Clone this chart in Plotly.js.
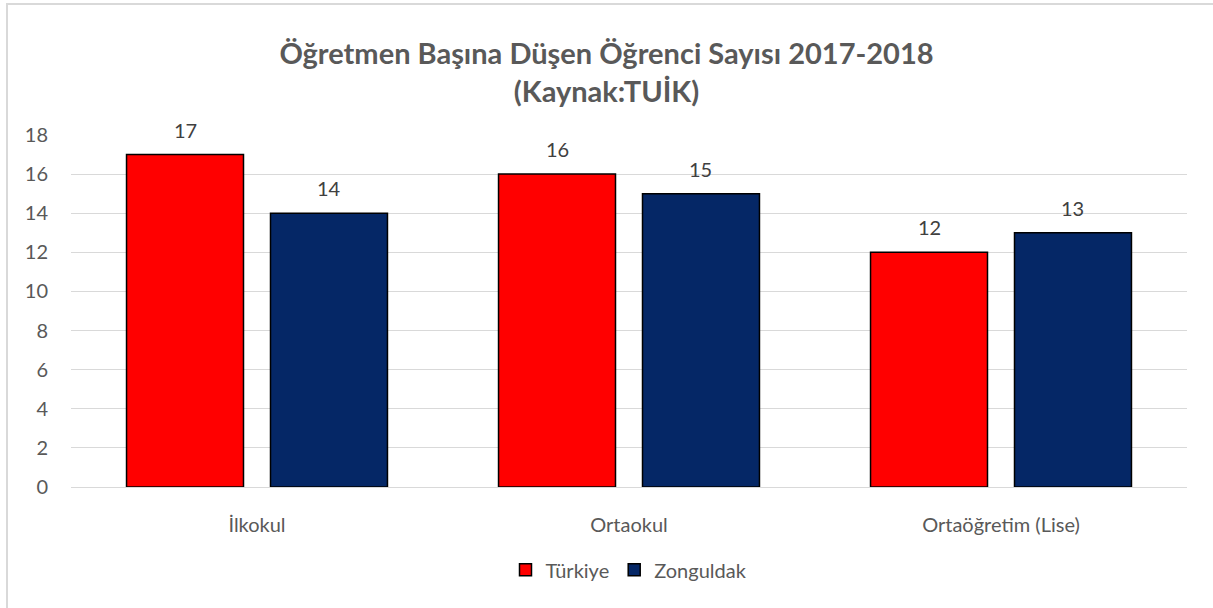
<!DOCTYPE html>
<html>
<head>
<meta charset="utf-8">
<script src="https://cdn.plot.ly/plotly-3.0.1.min.js"></script>
<style>
  html, body { margin:0; padding:0; background:#fff; }
  #frame { position:absolute; left:6px; top:3px; width:1220px; height:620px; border-left:2px solid #d9d9d9; border-top:2px solid #d9d9d9; pointer-events:none; z-index:5; }
  #chart { position:absolute; left:0; top:0; width:1213px; height:608px; }
</style>
</head>
<body>
<div id="chart"></div>
<div id="frame"></div>
<script>
const categories = ["İlkokul", "Ortaokul", "Ortaöğretim (Lise)"];
const turkiye = [17, 16, 12];
const zonguldak = [14, 15, 13];
const seriesNames = ["Türkiye", "Zonguldak"];
const yTicks = [0, 2, 4, 6, 8, 10, 12, 14, 16, 18];

const FONT = "Lato, 'Open Sans', sans-serif";
const idx = categories.map((c, i) => i);

const traces = [
  {
    type: "bar", name: seriesNames[0], x: idx, y: turkiye,
    marker: { color: "#ff0000", line: { color: "#000000", width: 1.5 } },
    hoverinfo: "y"
  },
  {
    type: "bar", name: seriesNames[1], x: idx, y: zonguldak,
    marker: { color: "#052766", line: { color: "#000000", width: 1.5 } },
    hoverinfo: "y"
  }
];

const slotOffset = 0.1935;
const annotations = [];
[turkiye, zonguldak].forEach((vals, s) => {
  vals.forEach((v, i) => {
    annotations.push({
      x: i + (s === 0 ? -slotOffset : slotOffset), y: v, xref: "x", yref: "y",
      text: String(v), showarrow: false, yanchor: "bottom", yshift: 11,
      font: { family: FONT, size: 20, color: "#404040" }
    });
  });
});

const layout = {
  width: 1213, height: 608,
  margin: { l: 71, r: 26, t: 135, b: 121 },
  paper_bgcolor: "#ffffff", plot_bgcolor: "#ffffff",
  title: {
    text: "<b>Öğretmen Başına Düşen Öğrenci Sayısı 2017-2018<br>(Kaynak:TUİK)</b>",
    font: { family: FONT, size: 29, color: "#595959" },
    x: 0.5, xanchor: "center", y: 0.895, yanchor: "middle"
  },
  barmode: "group", bargap: 0.226, bargroupgap: 0.1875,
  xaxis: {
    tickmode: "array", tickvals: idx, ticktext: categories,
    range: [-0.5, 2.5],
    showgrid: false, zeroline: false, showline: true, linecolor: "#d9d9d9", linewidth: 1,
    ticks: "", ticklabelstandoff: 20,
    tickfont: { family: FONT, size: 20, color: "#595959" }
  },
  yaxis: {
    range: [0, 18], tickmode: "array", tickvals: yTicks,
    showgrid: true, gridcolor: "#d9d9d9", gridwidth: 1, zeroline: false, showline: false,
    ticks: "", ticklabelstandoff: 22,
    tickfont: { family: FONT, size: 20, color: "#595959" }
  },
  showlegend: true,
  legend: {
    orientation: "h", x: 0.5, xanchor: "center", y: -0.18, yanchor: "top",
    font: { family: FONT, size: 20, color: "#595959" },
    itemwidth: 30, tracegroupgap: 0
  },
  annotations: annotations
};

Plotly.newPlot("chart", traces, layout, { displayModeBar: false, staticPlot: true });
</script>
</body>
</html>
